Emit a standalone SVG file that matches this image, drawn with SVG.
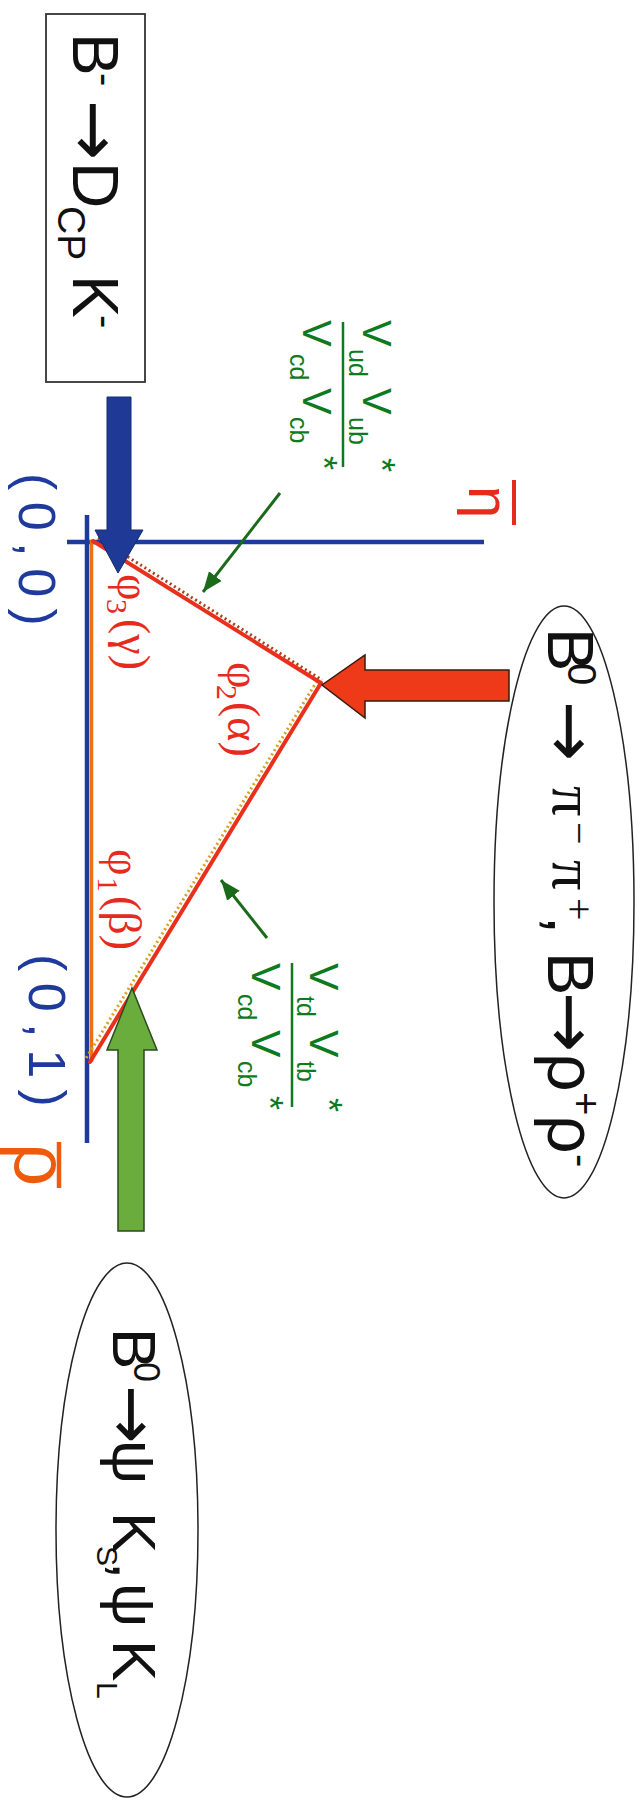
<svg xmlns="http://www.w3.org/2000/svg" width="643" height="1800" viewBox="0 0 643 1800">
<defs>
<style>
.sans{font-family:"Liberation Sans",Arial,sans-serif;}
.serif{font-family:"Liberation Serif","Times New Roman",serif;}
.arr{font-family:"DejaVu Sans",sans-serif;}
.blk{fill:#111;}
.grn{fill:#0e7a1e;font-family:"Liberation Sans",Arial,sans-serif;}
.red{fill:#e62a1e;}
.blu{fill:#1e3a9c;}
.axis{stroke:#1e3a9c;stroke-width:4.5;fill:none;}
.side{stroke:#e8301c;stroke-width:4;fill:none;stroke-linecap:round;}
.gline{stroke:#1b6a1b;stroke-width:3;fill:none;}
</style>
<marker id="gh" markerUnits="userSpaceOnUse" markerWidth="22" markerHeight="18" refX="20" refY="9" orient="auto">
<path d="M0,1 L20,9 L0,17 Z" fill="#1b6a1b"/>
</marker>
</defs>
<rect width="643" height="1800" fill="#fff"/>

<g id="axes">
<line class="axis" x1="67" y1="542" x2="484" y2="542" stroke-width="5"/>
<line class="axis" x1="87" y1="515" x2="87" y2="1143"/>
</g>

<g id="triangle">
<line x1="91.5" y1="540" x2="91.5" y2="1062" stroke="#f07010" stroke-width="3.5"/>
<line x1="98" y1="538" x2="322" y2="680" stroke="#a8401c" stroke-width="3" stroke-dasharray="2 3"/>
<line x1="317" y1="681" x2="85" y2="1060" stroke="#d9a020" stroke-width="3" stroke-dasharray="2 3"/>
<line class="side" x1="93" y1="541" x2="321" y2="683"/>
<line class="side" x1="321" y1="683" x2="90" y2="1062"/>
</g>

<g id="connectors">
<polygon id="arrow-blue" points="107,397 131,397 131,530 143,530 118,573 95,530 107,530" fill="#1f3a96" stroke="#162a70" stroke-width="1"/>
<polygon id="arrow-red" points="509,670 509,701 365,701 365,718 322,685 365,655 365,670" fill="#ee3a18" stroke="#3a1a10" stroke-width="1.5"/>
<polygon id="arrow-green" points="118,1231 144,1231 144,1050 157,1050 132,988 107,1050 118,1050" fill="#6aad3c" stroke="#2a4a20" stroke-width="1.5"/>
<line class="gline" x1="280" y1="493" x2="203" y2="592" marker-end="url(#gh)"/>
<line class="gline" x1="267" y1="938" x2="221" y2="880" marker-end="url(#gh)"/>
</g>

<g id="node-dcpk">
<rect x="46" y="14" width="99" height="368" fill="#fff" stroke="#333" stroke-width="1.8"/>
<g transform="rotate(90)">
<text class="sans blk" font-size="64"><tspan x="33" y="-73">B</tspan><tspan x="73" y="-92" font-size="40">-</tspan><tspan class="arr" x="100" y="-70" font-size="72">→</tspan><tspan x="162" y="-73">D</tspan><tspan x="206" y="-58" font-size="39">CP</tspan><tspan x="275" y="-73">K</tspan><tspan x="315" y="-92" font-size="40">-</tspan></text>
</g>
</g>

<g id="node-pipi">
<ellipse cx="564" cy="902" rx="70" ry="296" fill="none" stroke="#222" stroke-width="1.5"/>
<g transform="rotate(90)">
<text class="sans blk" font-size="65"><tspan x="628" y="-548">B</tspan><tspan x="663" y="-568" font-size="40">0</tspan><tspan class="arr" x="701" y="-546" font-size="72">→</tspan><tspan class="serif" x="786" y="-553" font-size="60">π</tspan><tspan class="serif" x="822" y="-566" font-size="40">−</tspan><tspan class="serif" x="860" y="-553" font-size="60">π</tspan><tspan class="serif" x="898" y="-566" font-size="40">+</tspan><tspan x="916" y="-548">,</tspan><tspan x="952" y="-548">B</tspan><tspan class="arr" x="992" y="-546" font-size="72">→</tspan><tspan x="1053" y="-548" font-size="68">ρ</tspan><tspan x="1092" y="-572" font-size="40">+</tspan><tspan x="1115" y="-548" font-size="68">ρ</tspan><tspan x="1154" y="-568" font-size="40">-</tspan></text>
</g>
</g>

<g id="node-psiks">
<ellipse cx="127" cy="1530" rx="71" ry="267" fill="none" stroke="#222" stroke-width="1.5"/>
<g transform="rotate(90)">
<text class="sans blk" font-size="62"><tspan x="1328" y="-113">B</tspan><tspan x="1362" y="-134" font-size="36">0</tspan><tspan class="arr" x="1385" y="-109" font-size="70">→</tspan><tspan x="1440" y="-113">ψ</tspan><tspan x="1512" y="-113">K</tspan><tspan x="1546" y="-97" font-size="30">S</tspan><tspan x="1562" y="-113">,</tspan><tspan x="1583" y="-113">ψ</tspan><tspan x="1640" y="-113">K</tspan><tspan x="1682" y="-97" font-size="30">L</tspan></text>
</g>
</g>

<g id="label-vub">
<line x1="343" y1="322" x2="343" y2="467" stroke="#0e7a1e" stroke-width="2.5"/>
<g transform="rotate(90)">
<text class="grn"><tspan x="320" y="-363" font-size="40">V</tspan><tspan x="349" y="-349" font-size="25">ud</tspan><tspan x="388" y="-363" font-size="40">V</tspan><tspan x="417" y="-349" font-size="25">ub</tspan><tspan x="458" y="-369" font-size="36">*</tspan></text>
<text class="grn"><tspan x="320" y="-303" font-size="40">V</tspan><tspan x="354" y="-290" font-size="25">cd</tspan><tspan x="388" y="-303" font-size="40">V</tspan><tspan x="417" y="-290" font-size="25">cb</tspan><tspan x="456" y="-311" font-size="36">*</tspan></text>
</g>
</g>

<g id="label-vtb">
<line x1="292" y1="963" x2="292" y2="1107" stroke="#0e7a1e" stroke-width="2.5"/>
<g transform="rotate(90)">
<text class="grn"><tspan x="963" y="-310" font-size="41">V</tspan><tspan x="996" y="-297" font-size="25">td</tspan><tspan x="1030" y="-310" font-size="41">V</tspan><tspan x="1061" y="-297" font-size="25">tb</tspan><tspan x="1098" y="-316" font-size="36">*</tspan></text>
<text class="grn"><tspan x="963" y="-252" font-size="41">V</tspan><tspan x="994" y="-238" font-size="25">cd</tspan><tspan x="1030" y="-252" font-size="41">V</tspan><tspan x="1061" y="-238" font-size="25">cb</tspan><tspan x="1096" y="-257" font-size="36">*</tspan></text>
</g>
</g>

<g id="label-eta">
<line x1="514" y1="480" x2="514" y2="525" stroke="#e62a1e" stroke-width="4"/>
<g transform="rotate(90)"><text class="sans red" x="486" y="-469" font-size="58">η</text></g>
</g>

<g id="label-rho">
<line x1="59" y1="1142" x2="59" y2="1188" stroke="#ef5b0c" stroke-width="4.5"/>
<g transform="rotate(90)"><text class="sans" fill="#ef5b0c" x="1143" y="-15" font-size="76">ρ</text></g>
</g>

<g id="label-origin">
<g transform="rotate(90)"><text class="sans blu" x="473" y="-19" font-size="52" letter-spacing="11.5">(0,0)</text></g>
</g>
<g id="label-one">
<g transform="rotate(90)"><text class="sans blu" x="954" y="-29" font-size="52" letter-spacing="11.5">(0,1)</text></g>
</g>

<g id="angles" transform="rotate(90)">
<text class="serif red" font-size="46"><tspan x="574" y="-118">φ</tspan><tspan x="599" y="-107" font-size="30">3</tspan><tspan x="619" y="-118">(γ)</tspan></text>
<text class="serif red" font-size="46"><tspan x="662" y="-228">φ</tspan><tspan x="685" y="-217" font-size="30">2</tspan><tspan x="702" y="-228">(α)</tspan></text>
<text class="serif red" font-size="46"><tspan x="849" y="-109">φ</tspan><tspan x="877" y="-98" font-size="30">1</tspan><tspan x="896" y="-109">(β)</tspan></text>
</g>
</svg>
